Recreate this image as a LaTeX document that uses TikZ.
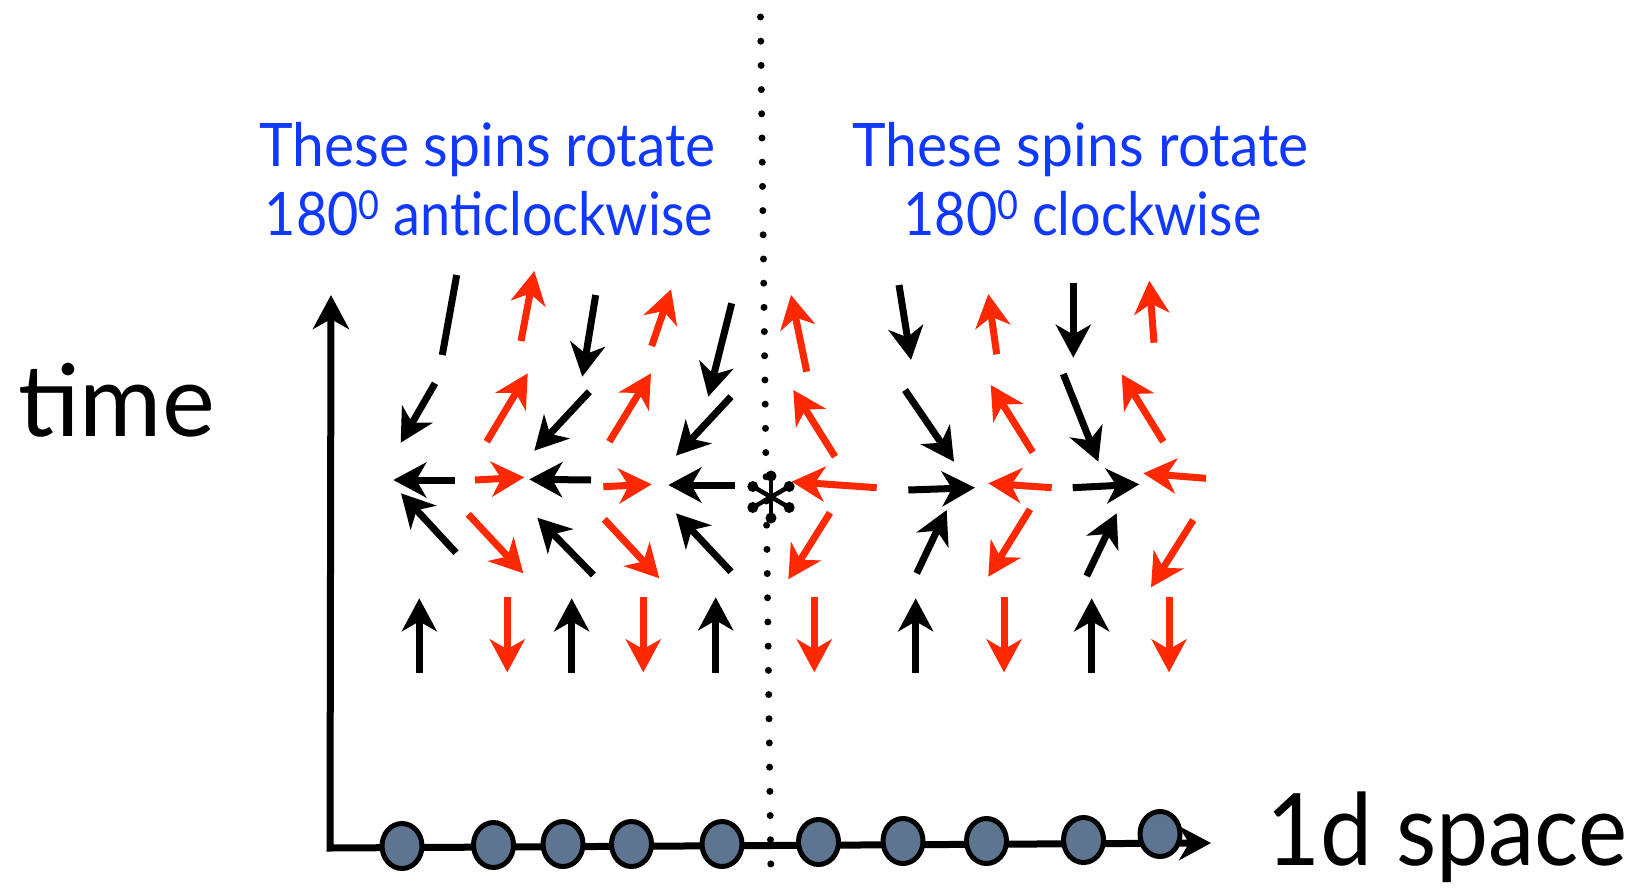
\documentclass[tikz,border=0pt]{standalone}
\usepackage{fontspec}
\setmainfont{Lato}
\usetikzlibrary{arrows.meta,shapes.geometric}
\definecolor{spinred}{RGB}{255,40,0}
\definecolor{labelblue}{RGB}{16,56,255}
\definecolor{sitefill}{RGB}{94,117,145}
\newcommand{\supzero}{\raisebox{16pt}{\fontsize{40}{40}\selectfont 0}}
\tikzset{
  spinblack/.style={draw=black, line width=7pt, -{Stealth[length=33pt,width=35pt,inset=10pt]}},
  spinredarrow/.style={draw=spinred, line width=7pt, -{Stealth[length=33pt,width=35pt,inset=10pt]}},
  spinbar/.style={draw=black, line width=7pt},
  axisline/.style={draw=black, line width=7pt, line join=miter,
    {Stealth[length=34pt,width=36pt,inset=10pt]}-{Stealth[length=32pt,width=34pt,inset=10pt]}},
  site/.style={ellipse, draw=black, line width=5pt, fill=sitefill,
    minimum width=40pt, minimum height=45pt, inner sep=0pt},
  bluelabel/.style={text=labelblue, inner sep=0pt, anchor=base,
    font=\fontsize{60}{69}\selectfont},
  axislabel/.style={text=black, inner sep=0pt, anchor=base west,
    font=\fontsize{100}{110}\selectfont},
  dotline/.style={draw=black, line width=7pt, line cap=round, dash pattern=on 0pt off 24.2pt},
  astarm/.style={draw=black, line width=4.5pt},
  astend/.style={fill=black}
}
\begin{document}
\begin{tikzpicture}[x=1pt,y=-1pt]
\useasboundingbox (0,0) rectangle (1646,889);

% dotted divider
\coordinate (dtop) at (760.5,17);
\coordinate (dbot) at (771,882);
\draw[dotline] (dtop) -- (dbot);

% axes
\coordinate (tTop) at (331,295);
\coordinate (O) at (330,848);
\coordinate (xEnd) at (1211,843);
\draw[axisline] (tTop) -- (O) -- (xEnd);

% lattice sites
\foreach \i/\cx/\cy in {1/402/846, 2/493.5/845, 3/563/844, 4/631.5/844, 5/722/844,
  6/818.5/842, 7/903/841, 8/986.5/841, 9/1083.5/840, 10/1160/834}
  \node[site] (s\i) at (\cx,\cy) {};

% black spins
\draw[spinbar] (456.7,275) -- (442.3,355);
\foreach \ax/\ay/\bx/\by in {
  435/383.3/400.7/442.7, 455/480/393.3/480, 456/552.7/401/493.3, 419.3/673.3/419.3/598.3,
  595.7/295/582.3/376.7, 589.3/391.7/534.3/450.7, 591/480/529.3/479.3, 593.3/575/537.3/517.7, 571.7/673/571.7/598.3,
  731.7/303.3/708.3/396.7, 731/396.7/676/455.7, 735/485/668.3/485, 731/571.7/676/513.3, 715.7/673/715.7/597.3,
  899/285/911/360, 905/390/954/461.7, 908.3/490/975/487.7, 916.7/573.3/946.7/510, 915.7/673.3/915.7/598.3,
  1073.3/282.7/1073.3/357.7, 1063.3/374/1098.3/461.7, 1072.7/487.7/1139.3/484.3, 1086.7/576/1116.7/513.3, 1091.7/673.3/1091.7/598.3}
  \draw[spinblack] (\ax,\ay) -- (\bx,\by);

% red spins
\foreach \ax/\ay/\bx/\by in {
  521/341/534.3/271, 486.7/441.7/527.7/373.3, 475/480/524.3/477.3, 468.3/514.3/523.3/573.3, 507.3/597.3/507.3/672.3,
  651.7/346/671/289.3, 609.3/441.7/651/373.3, 603.3/486.7/651.7/484.3, 604.3/519.3/659.3/578.3, 643.3/597.3/643.3/672.3,
  806.7/371.7/791/295, 835/456.7/793.3/390, 876.7/487.7/791.7/481.7, 830/512.7/788.3/579.3, 814.3/597.3/814.3/672.3,
  996.7/354.3/988.3/294, 1032.7/452.3/990.7/385, 1051.7/487.7/988.3/483.3, 1030/509.3/988.3/576.7, 1004/597.3/1004/672.3,
  1154/342.7/1149.3/280.7, 1163.3/441.7/1121.7/374.3, 1206/478.3/1143.3/473.3, 1193.3/520/1151/587.3, 1169/597.3/1169/672.3}
  \draw[spinredarrow] (\ax,\ay) -- (\bx,\by);

% asterisk (six arms with round ends)
\coordinate (star) at (771,497);
\foreach \ang in {90,270,30,150,210,330} {
  \draw[astarm] (star) -- ++(\ang:-21);
  \fill[astend] (star) ++(\ang:-21) circle (5.5);
}

% labels
\node[bluelabel] (lt1) at (487.5,166) {\scalebox{0.95}[1]{These spins rotate}};
\node[bluelabel] (lt2) at (489,235) {\scalebox{0.9}[1]{180\supzero{} anticlockwise}};
\node[bluelabel] (rt1) at (1080.5,166) {\scalebox{0.95}[1]{These spins rotate}};
\node[bluelabel] (rt2) at (1082.5,235) {\scalebox{0.9}[1]{180\supzero{} clockwise}};
\node[axislabel] (tlab) at (18,436) {time};
\node[axislabel] (xlab) at (1266,865) {\scalebox{0.93}[1]{1d space}};
\end{tikzpicture}
\end{document}
